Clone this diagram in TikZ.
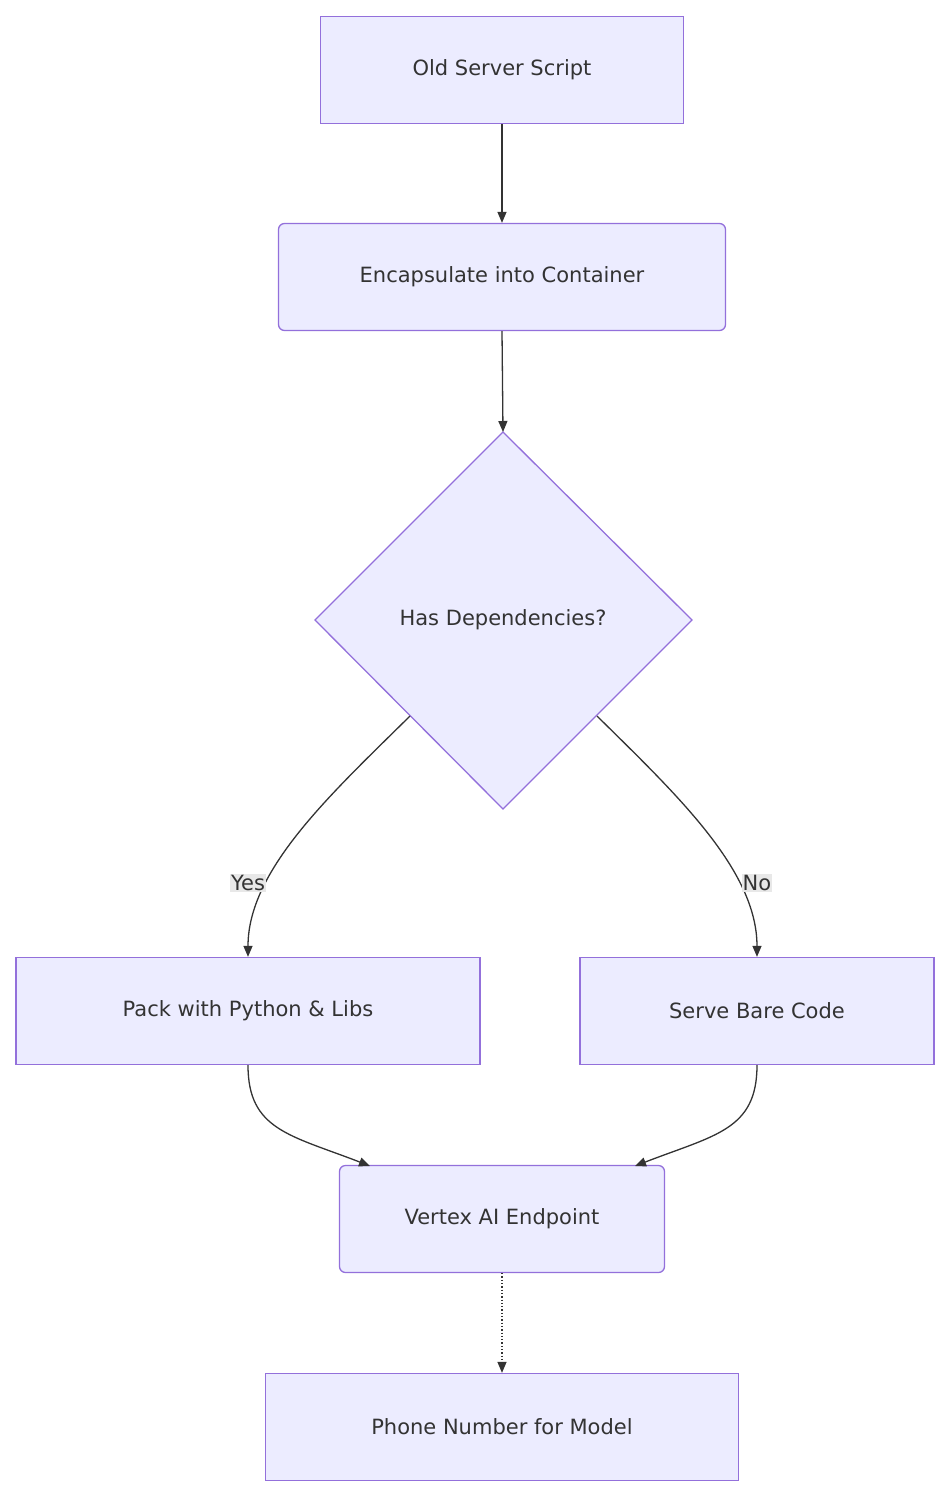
\documentclass[tikz,border=0pt]{standalone}
\usepackage{fontspec}
\setmainfont{DejaVu Sans}
\usetikzlibrary{arrows.meta}
\definecolor{nfill}{HTML}{ECECFF}
\definecolor{nstroke}{HTML}{9370DB}
\definecolor{lcol}{HTML}{333333}
\definecolor{lbg}{HTML}{E8E8E8}
\begin{document}
\begin{tikzpicture}[x=1pt,y=-1pt,
  box/.style={draw=nstroke,fill=nfill,line width=1.3pt,font=\fontsize{21}{25}\selectfont,text=lcol},
  conn/.style={draw=lcol,line width=1.3pt,-{Triangle[length=11pt,width=9pt]}},
  lab/.style={fill=lbg,font=\fontsize{21}{25}\selectfont,text=lcol,inner sep=1pt}]
\useasboundingbox (0,0) rectangle (952,1500);
\node[box,minimum width=363pt,minimum height=107pt] (a) at (502,70) {Old Server Script};
\node[box,rounded corners=6pt,minimum width=447pt,minimum height=107pt] (b) at (502,277) {Encapsulate into Container};
\filldraw[draw=nstroke,fill=nfill,line width=1.3pt] (503,432) -- (692,620) -- (503,809) -- (315,620) -- cycle;
\node[font=\fontsize{21}{25}\selectfont,text=lcol] (c) at (503,620) {Has Dependencies?};
\coordinate (cl) at (410,716);
\coordinate (cr) at (597,716);
\node[box,minimum width=464pt,minimum height=107pt] (d) at (248,1011) {Pack with Python \& Libs};
\node[box,minimum width=354pt,minimum height=107pt] (e) at (757,1011) {Serve Bare Code};
\node[box,rounded corners=6pt,minimum width=325pt,minimum height=107pt] (f) at (502,1219) {Vertex AI Endpoint};
\node[box,minimum width=473pt,minimum height=107pt] (g) at (502,1427) {Phone Number for Model};
\coordinate (ct) at (503,432);
\draw[conn] (a.south) -- (b.north);
\draw[conn] (b.south) -- (ct);
\draw[conn] (cl) .. controls (330,795) and (248,870) .. (d.north);
\draw[conn] (cr) .. controls (677,795) and (757,870) .. (e.north);
\node[lab] at (248,883) {Yes};
\node[lab] at (757,883) {No};
\draw[conn] (d.south) .. controls (248,1130) and (290,1135) .. (370,1166);
\draw[conn] (e.south) .. controls (757,1130) and (715,1135) .. (635,1166);
\draw[conn,dotted] (f.south) -- (g.north);
\end{tikzpicture}
\end{document}
